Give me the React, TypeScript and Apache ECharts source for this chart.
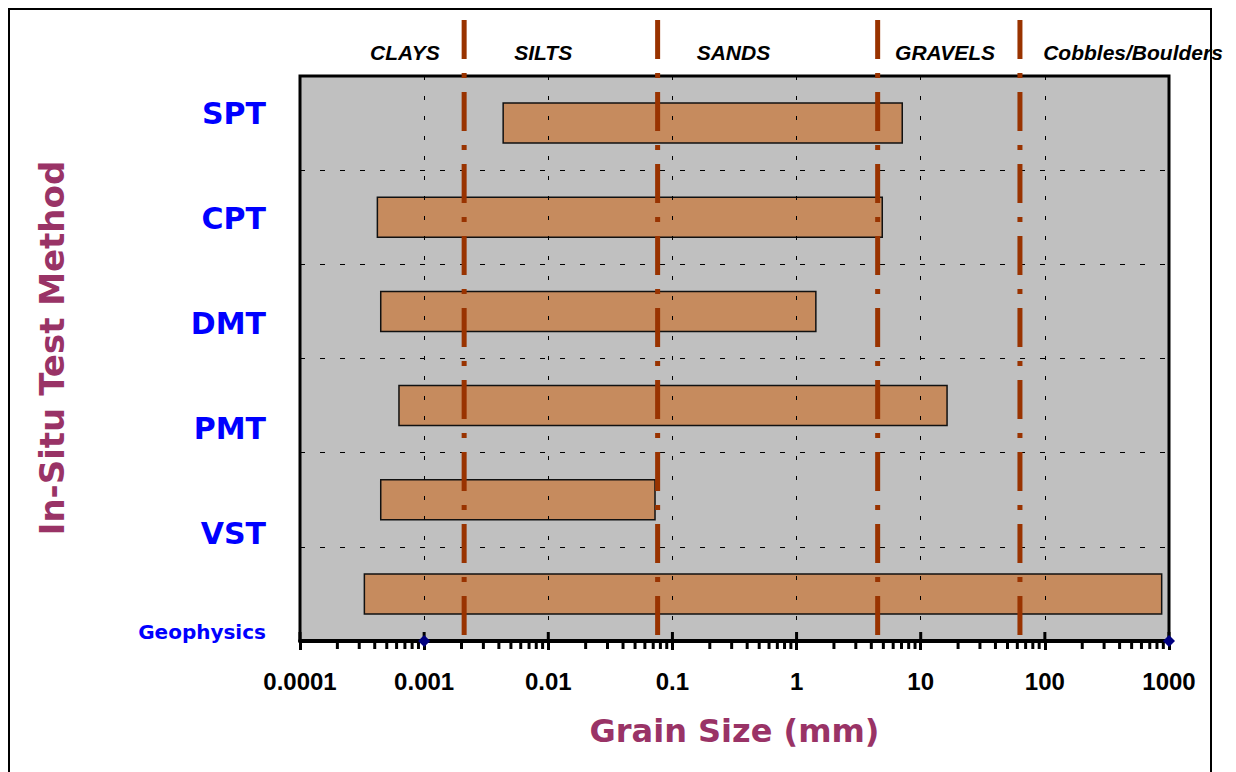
import React, { useEffect, useRef } from "react";
import * as echarts from "echarts";

// ---- data ----
const methods = ["SPT", "CPT", "DMT", "PMT", "VST", "Geophysics"];
const rangeMin = [0.00433, 0.00042, 0.000447, 0.000627, 0.000447, 0.00033];
const rangeMax = [7.1, 4.9, 1.43, 16.3, 0.0724, 873];
const boundaries = [0.0021, 0.076, 4.5, 63];
const zoneNames = ["CLAYS", "SILTS", "SANDS", "GRAVELS", "Cobbles/Boulders"];
const zoneCenters = [0.0007, 0.0091, 0.31, 15.7, 513];
const tickLabels = ["0.0001", "0.001", "0.01", "0.1", "1", "10", "100", "1000"];
const decades = [0.0001, 0.001, 0.01, 0.1, 1, 10, 100, 1000];
const minorMultipliers = [2, 3, 4, 5, 6, 7, 8, 9];
const axisMarkers = [0.001, 1000];

const BLUE = "#0000ff";
const MAROON = "#993366";
const RUST = "#993300";
const BAR = "#c68b5e";

export default function App() {
  const ref = useRef<HTMLDivElement>(null);
  useEffect(() => {
    if (!ref.current) return;
    const chart = echarts.init(ref.current, null, { renderer: "svg" });

    const minorTicks: number[][] = [];
    decades.slice(0, -1).forEach((d) =>
      minorMultipliers.forEach((m) => minorTicks.push([d * m, 0]))
    );

    const option: any = {
      animation: false,
      backgroundColor: "#ffffff",
      graphic: [
        {
          type: "rect",
          shape: { x: 1, y: 1, width: 1202, height: 800 },
          style: { fill: "none", stroke: "#000", lineWidth: 2 },
          z: -10,
        },
        {
          type: "text",
          x: 44,
          y: 340,
          rotation: Math.PI / 2,
          style: {
            text: "In-Situ Test Method",
            fill: MAROON,
            font: "bold 34px 'DejaVu Sans'",
            align: "center",
            verticalAlign: "middle",
          },
        },
      ],
      grid: [
        {
          left: 292,
          top: 68,
          width: 869,
          height: 565,
          show: true,
          backgroundColor: "#c0c0c0",
          borderColor: "#000",
          borderWidth: 3,
        },
        { left: 258, top: 52.5, width: 1, height: 630, show: false },
      ],
      xAxis: [
        {
          type: "log",
          gridIndex: 0,
          logBase: 10,
          min: 0.0001,
          max: 1000,
          axisLine: { show: true, lineStyle: { color: "#000", width: 4 } },
          axisTick: { show: true, length: 9, lineStyle: { color: "#000", width: 3 } },
          axisLabel: {
            color: "#000",
            fontFamily: "'Liberation Sans', Arial",
            fontWeight: "bold",
            fontSize: 24,
            margin: 28,
            formatter: (v: number) => tickLabels[Math.round(Math.log10(v)) + 4],
          },
          splitLine: {
            show: true,
            lineStyle: { color: "#000", width: 1, type: [4, 16] },
          },
          name: "Grain Size (mm)",
          nameLocation: "middle",
          nameGap: 74,
          nameTextStyle: {
            color: MAROON,
            fontFamily: "'DejaVu Sans'",
            fontWeight: "bold",
            fontSize: 32,
          },
          z: 3,
        },
        { type: "value", gridIndex: 1, show: false },
      ],
      yAxis: [
        {
          type: "category",
          gridIndex: 0,
          data: methods,
          inverse: true,
          axisLine: { show: false },
          axisTick: { show: false },
          axisLabel: { show: false },
          splitLine: {
            show: true,
            lineStyle: { color: "#000", width: 1, type: [5, 15] },
          },
        },
        {
          type: "category",
          gridIndex: 1,
          data: methods,
          inverse: true,
          axisLine: { show: false },
          axisTick: { show: false },
          splitLine: { show: false },
          axisLabel: {
            margin: 0,
            align: "right",
            formatter: (v: string) => (v === "Geophysics" ? `{g|${v}}` : `{m|${v}}`),
            rich: {
              m: { color: BLUE, fontFamily: "'DejaVu Sans'", fontWeight: "bold", fontSize: 30 },
              g: {
                color: BLUE,
                fontFamily: "'DejaVu Sans'",
                fontWeight: "bold",
                fontSize: 20,
                padding: [0, 0, 12, 0],
              },
            },
          },
        },
      ],
      series: [
        {
          type: "custom",
          name: "ranges",
          xAxisIndex: 0,
          yAxisIndex: 0,
          encode: { x: [0, 1], y: 2 },
          data: methods.map((m, i) => [rangeMin[i], rangeMax[i], i]),
          renderItem: (params: any, api: any) => {
            const cs = params.coordSys;
            const a = api.coord([api.value(0), api.value(2)]);
            const b = api.coord([api.value(1), api.value(2)]);
            const h = (cs.height / methods.length) * 0.425;
            return {
              type: "rect",
              shape: { x: a[0], y: a[1] - h / 2, width: b[0] - a[0], height: h },
              style: { fill: BAR, stroke: "#111", lineWidth: 1.5 },
            };
          },
          z: 2,
        },
        {
          type: "custom",
          name: "boundaries",
          xAxisIndex: 0,
          yAxisIndex: 0,
          encode: { x: 0, y: 1 },
          data: boundaries.map((b) => [b, 0]),
          renderItem: (params: any, api: any) => {
            const cs = params.coordSys;
            const p = api.coord([api.value(0), 0]);
            return {
              type: "line",
              shape: { x1: p[0], y1: 12, x2: p[0], y2: cs.y + cs.height - 2 },
              style: { stroke: RUST, lineWidth: 5, lineDash: [39, 14, 5, 14] },
            };
          },
          z: 3,
        },
        {
          type: "custom",
          name: "zones",
          xAxisIndex: 0,
          yAxisIndex: 0,
          encode: { x: 0, y: 1 },
          data: zoneCenters.map((c) => [c, 0]),
          renderItem: (params: any, api: any) => {
            const p = api.coord([api.value(0), 0]);
            return {
              type: "text",
              x: p[0],
              y: 44,
              style: {
                text: zoneNames[params.dataIndex],
                fill: "#000",
                font: "italic bold 21px 'Liberation Sans', Arial",
                align: "center",
                verticalAlign: "middle",
              },
            };
          },
          z: 4,
        },
        {
          type: "custom",
          name: "minorTicks",
          xAxisIndex: 0,
          yAxisIndex: 0,
          encode: { x: 0, y: 1 },
          data: minorTicks,
          renderItem: (params: any, api: any) => {
            const cs = params.coordSys;
            const p = api.coord([api.value(0), 0]);
            const yb = cs.y + cs.height;
            return {
              type: "line",
              shape: { x1: p[0], y1: yb, x2: p[0], y2: yb + 8 },
              style: { stroke: "#000", lineWidth: 3 },
            };
          },
          z: 5,
        },
        {
          type: "custom",
          name: "majorInner",
          xAxisIndex: 0,
          yAxisIndex: 0,
          encode: { x: 0, y: 1 },
          data: decades.map((d) => [d, 0]),
          renderItem: (params: any, api: any) => {
            const cs = params.coordSys;
            const p = api.coord([api.value(0), 0]);
            const yb = cs.y + cs.height;
            return {
              type: "line",
              shape: { x1: p[0], y1: yb - 9, x2: p[0], y2: yb },
              style: { stroke: "#000", lineWidth: 3 },
            };
          },
          z: 5,
        },
        {
          type: "custom",
          name: "markers",
          xAxisIndex: 0,
          yAxisIndex: 0,
          encode: { x: 0, y: 1 },
          data: axisMarkers.map((d) => [d, 0]),
          renderItem: (params: any, api: any) => {
            const cs = params.coordSys;
            const p = api.coord([api.value(0), 0]);
            const cy = cs.y + cs.height;
            const r = 6;
            return {
              type: "polygon",
              shape: {
                points: [
                  [p[0], cy - r],
                  [p[0] + r, cy],
                  [p[0], cy + r],
                  [p[0] - r, cy],
                ],
              },
              style: { fill: "#000080" },
            };
          },
          z: 6,
        },
      ],
    };

    chart.setOption(option);
    return () => chart.dispose();
  }, []);

  return <div ref={ref} style={{ width: 1228, height: 764 }} />;
}
